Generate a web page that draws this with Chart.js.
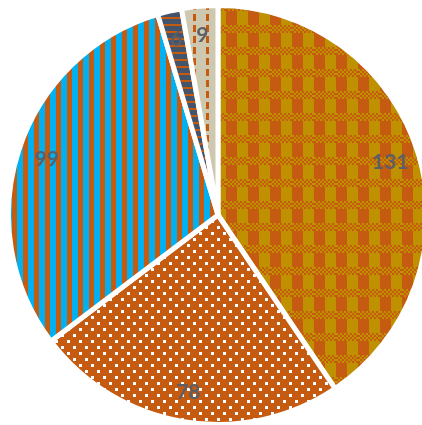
<!DOCTYPE html>
<html>
<head>
<meta charset="utf-8">
<script src="https://cdn.jsdelivr.net/npm/chart.js@4.4.1/dist/chart.umd.min.js"></script>
<style>
  html, body { margin: 0; padding: 0; background: #fff; overflow: hidden; width: 422px; height: 425px; }
  #wrap { position: absolute; left: 6px; top: 3px; width: 424px; height: 424px; }
</style>
</head>
<body>
<div id="wrap"><canvas id="pie-chart"></canvas></div>
<script>
// slice values, clockwise from 12 o'clock
const sliceLabels = ["A", "B", "C", "D", "E"];
const sliceValues = [131, 78, 99, 6, 9];

const ORANGE = "#C55A11";
const GOLD = "#BF9000";
const BLUE = "#00B0F0";
const NAVY = "#44546A";
const BEIGE = "#CFC8B0";

function makeTile(w, h, draw) {
    const c = document.createElement("canvas");
    c.width = w;
    c.height = h;
    draw(c.getContext("2d"));
    return document.createElement("canvas").getContext("2d").createPattern(c, "repeat");
}

// orange / gold plaid
const plaid = makeTile(22, 22, g => {
    g.fillStyle = ORANGE;
    g.fillRect(0, 0, 22, 22);
    g.fillStyle = GOLD;
    g.fillRect(11, 0, 11, 22);
    for (let y = 0; y < 8; y += 2) {
        for (let x = 0; x < 22; x += 2) {
            g.fillStyle = ((x + y) / 2) % 2 ? ORANGE : GOLD;
            g.fillRect(x, y, 2, 2);
        }
    }
});

// orange with white dots
const dots = makeTile(12, 12, g => {
    g.fillStyle = ORANGE;
    g.fillRect(0, 0, 12, 12);
    g.fillStyle = "#fff";
    g.fillRect(1, 1, 3, 3);
    g.fillRect(7, 7, 3, 3);
});

// blue / orange vertical stripes
const vStripes = makeTile(11, 4, g => {
    g.fillStyle = BLUE;
    g.fillRect(0, 0, 6, 4);
    g.fillStyle = ORANGE;
    g.fillRect(6, 0, 5, 4);
});

// navy with thin orange horizontal stripes
const hStripes = makeTile(4, 7, g => {
    g.fillStyle = NAVY;
    g.fillRect(0, 0, 4, 7);
    g.fillStyle = ORANGE;
    g.fillRect(0, 0, 4, 2);
});

// beige with dashed orange verticals
const dashed = makeTile(13, 11, g => {
    g.fillStyle = BEIGE;
    g.fillRect(0, 0, 13, 11);
    g.fillStyle = ORANGE;
    g.fillRect(5, 0, 3, 7);
});

const sliceLabelPlugin = {
    id: "sliceLabels",
    afterDatasetsDraw(chart) {
        const ctx = chart.ctx;
        const meta = chart.getDatasetMeta(0);
        ctx.save();
        ctx.font = "bold 21px Lato";
        ctx.fillStyle = "#5b5f66";
        ctx.textAlign = "center";
        ctx.textBaseline = "middle";
        meta.data.forEach((arc, i) => {
            const p = arc.getProps(["x", "y", "startAngle", "endAngle", "outerRadius"], true);
            const mid = (p.startAngle + p.endAngle) / 2;
            const r = p.outerRadius * 0.86;
            ctx.fillText(String(chart.data.datasets[0].data[i]), p.x + Math.cos(mid) * r, p.y + Math.sin(mid) * r);
        });
        ctx.restore();
    }
};

new Chart(document.getElementById("pie-chart"), {
    type: "pie",
    data: {
        labels: sliceLabels,
        datasets: [{
            data: sliceValues,
            backgroundColor: [plaid, dots, vStripes, hStripes, dashed],
            borderColor: "#ffffff",
            borderWidth: 5
        }]
    },
    options: {
        responsive: true,
        maintainAspectRatio: false,
        animation: false,
        layout: { padding: 0 },
        plugins: {
            legend: { display: false },
            tooltip: { enabled: false }
        }
    },
    plugins: [sliceLabelPlugin]
});
</script>
</body>
</html>
